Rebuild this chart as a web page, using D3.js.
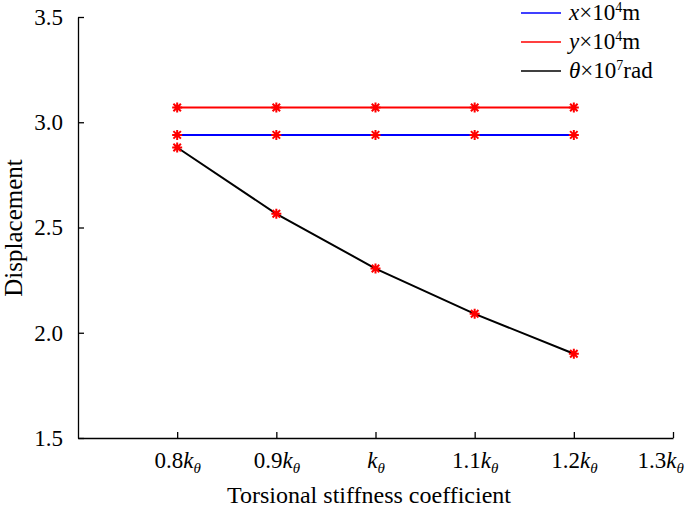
<!DOCTYPE html>
<html>
<head>
<meta charset="utf-8">
<script src="https://cdn.jsdelivr.net/npm/d3@7"></script>
<style>
  body { margin: 0; background: #fff; }
  svg, svg text { font-family: "Liberation Serif", "Times New Roman", serif !important; }
</style>
</head>
<body>
<div class="chart"></div>
<script>
const coefficients = [0.8, 0.9, 1.0, 1.1, 1.2];
const xTicks = [0.8, 0.9, 1.0, 1.1, 1.2, 1.3];
const xTickLabels = ["0.8", "0.9", "", "1.1", "1.2", "1.3"];
const yTicks = [1.5, 2.0, 2.5, 3.0, 3.5];
const xDisp = [2.94, 2.94, 2.94, 2.94, 2.94];
const yDisp = [3.07, 3.07, 3.07, 3.07, 3.07];
const thetaDisp = [2.88, 2.565, 2.305, 2.09, 1.9];

const width = 685, height = 512;
const margin = {top: 17, right: 12, bottom: 74, left: 78};
const fontSize = 23;

const x = d3.scaleLinear()
    .domain([0.7, 1.3])
    .range([margin.left, width - margin.right]);

const y = d3.scaleLinear()
    .domain([1.5, 3.5])
    .range([height - margin.bottom, margin.top]);

const svg = d3.select(".chart").append("svg")
    .attr("width", width)
    .attr("height", height);

// axes
const xAxis = svg.append("g")
    .attr("transform", `translate(0,${y(1.5)})`)
    .call(d3.axisBottom(x).tickValues(xTicks).tickSizeInner(-6).tickSizeOuter(0).tickFormat(""));
xAxis.select(".domain").attr("stroke-width", 1.3);
xAxis.selectAll(".tick line").attr("stroke-width", 1.3);

const xLabels = xAxis.selectAll(".tick")
    .append("text")
    .attr("fill", "#000")
    .attr("y", 30)
    .attr("font-size", fontSize)
    .attr("text-anchor", "middle");
xLabels.append("tspan").text((d, i) => xTickLabels[i]);
xLabels.append("tspan").attr("font-style", "italic").text("k");
xLabels.append("tspan").attr("font-style", "italic").attr("font-size", 15).attr("dy", 5).text("θ");

// keep the last label inside the page
xLabels.each(function(d) {
    const bb = this.getBBox();
    const right = x(d) + bb.x + bb.width;
    if (right > width - 1) d3.select(this).attr("x", width - 1 - right);
});

const yAxis = svg.append("g")
    .attr("transform", `translate(${x(0.7)},0)`)
    .call(d3.axisLeft(y).tickValues(yTicks).tickSizeInner(-6).tickSizeOuter(0).tickPadding(15).tickFormat(d3.format(".1f")));
yAxis.select(".domain").attr("stroke-width", 1.3);
yAxis.selectAll(".tick line").attr("stroke-width", 1.3);
yAxis.selectAll(".tick text")
    .attr("fill", "#000")
    .attr("font-size", fontSize);

// titles
svg.append("text")
    .attr("x", 369)
    .attr("y", 503)
    .attr("text-anchor", "middle")
    .attr("font-size", fontSize + 1)
    .text("Torsional stiffness coefficient");

svg.append("text")
    .attr("transform", `translate(22,228) rotate(-90)`)
    .attr("text-anchor", "middle")
    .attr("font-size", fontSize + 2)
    .text("Displacement");

// series
const series = [
    {name: "x", values: xDisp, color: "#0000ff"},
    {name: "y", values: yDisp, color: "#ff0000"},
    {name: "theta", values: thetaDisp, color: "#000000"}
];

const line = d3.line()
    .x((d, i) => x(coefficients[i]))
    .y(d => y(d));

svg.selectAll(".series")
    .data(series)
    .join("path")
    .attr("class", "series")
    .attr("fill", "none")
    .attr("stroke", d => d.color)
    .attr("stroke-width", 2)
    .attr("d", d => line(d.values));

// star markers (all red)
const r = 5, rd = r * 0.75;
const star = `M${-r},0L${r},0M0,${-r}L0,${r}M${-rd},${-rd}L${rd},${rd}M${-rd},${rd}L${rd},${-rd}`;
series.forEach(s => {
    svg.append("g")
        .selectAll("path")
        .data(s.values)
        .join("path")
        .attr("transform", (d, i) => `translate(${x(coefficients[i])},${y(d)})`)
        .attr("d", star)
        .attr("fill", "none")
        .attr("stroke", "#ff0000")
        .attr("stroke-width", 2);
});

// legend
const legend = svg.append("g").attr("transform", "translate(521,13)");
const legendItems = [
    {sym: "x", exp: "4", unit: "m", color: "#0000ff"},
    {sym: "y", exp: "4", unit: "m", color: "#ff0000"},
    {sym: "θ", exp: "7", unit: "rad", color: "#000000"}
];
const li = legend.selectAll("g")
    .data(legendItems)
    .join("g")
    .attr("transform", (d, i) => `translate(0,${i * 29})`);
li.append("line")
    .attr("x1", 0).attr("x2", 40)
    .attr("stroke", d => d.color)
    .attr("stroke-width", 1.5);
const lt = li.append("text")
    .attr("x", 48)
    .attr("y", 7)
    .attr("font-size", fontSize);
lt.append("tspan").attr("font-style", "italic").text(d => d.sym);
lt.append("tspan").text("×10");
lt.append("tspan").attr("font-size", 14).attr("dy", -8).text(d => d.exp);
lt.append("tspan").attr("dy", 8).text(d => d.unit);
</script>
</body>
</html>
